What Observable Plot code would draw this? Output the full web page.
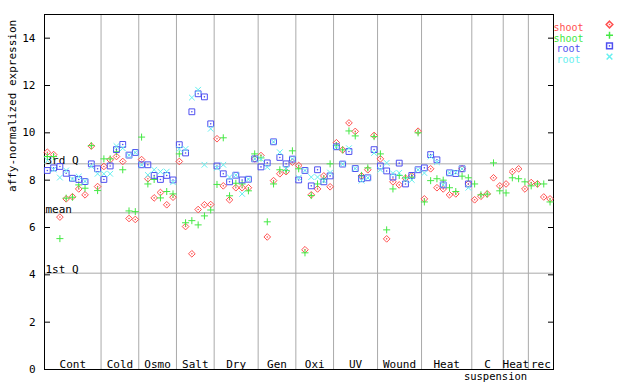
<!DOCTYPE html>
<html><head><meta charset="utf-8">
<script src="https://cdn.jsdelivr.net/npm/d3@7"></script>
<script src="https://cdn.jsdelivr.net/npm/@observablehq/plot@0.6"></script>
<style>body{margin:0;background:#fff}</style>
</head><body><div id="chart"></div><script>
const groupLabels = ["Cont","Cold","Osmo","Salt","Dry","Gen","Oxi","UV","Wound","Heat","C","Heat","rec"];
const groupSubLabels = ["","","","","","","","","","","suspension","",""];
const groupSizes = [9,6,6,6,7,6,6,7,7,8,5,4,4];
const shootA = [9.18,9.08,6.44,7.21,7.3,7.63,7.38,9.44,7.73, 8.58,8.86,9.0,8.79,6.38,6.34, 8.87,8.06,7.25,7.48,6.96,7.28, 8.79,6.04,4.89,6.76,6.96,6.97, 9.75,7.76,7.17,7.68,7.68,7.68,8.9, 9.04,5.6,7.98,8.27,8.36,8.76, 8.62,5.06,7.38,7.63,8.18,7.72, 9.58,9.28,10.42,10.06,8.18,8.44,9.89, 8.9,5.52,7.93,7.8,8.08,8.18,10.07, 7.21,8.48,7.68,7.63,7.38,7.42,8.48,7.84, 7.17,7.32,7.42,8.1,7.76, 7.84,8.36,8.48,7.63, 7.9,7.84,7.29,7.21];
const shootB = [9.0,9.0,5.53,7.24,7.28,7.8,7.66,9.46,7.56, 8.9,8.9,9.2,8.44,6.7,6.67, 9.82,7.84,8.03,7.25,7.52,7.42, 9.11,6.2,6.29,6.11,6.49,6.74, 7.82,9.79,7.34,7.87,7.84,7.55,9.11, 8.94,6.24,7.84,8.44,8.41,9.24, 8.48,4.93,7.35,7.84,8.04,8.69, 9.46,9.28,10.08,9.87,8.2,8.52,9.84, 9.11,5.9,7.63,8.2,8.1,8.13,10.0, 7.08,7.98,8.06,8.0,7.68,7.52,8.17,8.1, 7.84,7.38,7.41,8.73,7.55, 7.46,8.1,8.06,7.93, 7.76,7.84,7.84,7.08];
const rootA = [8.41,8.52,8.58,8.29,8.08,8.03,7.94,8.69,8.48, 8.03,8.6,9.29,9.51,9.06,9.17, 8.65,8.65,8.2,8.03,8.2,8.01, 9.5,9.15,10.89,11.65,11.52,10.38, 8.6,8.27,7.93,8.21,8.01,8.04,8.9, 8.56,8.73,9.62,8.96,8.69,8.89, 8.01,8.41,7.76,8.44,7.93,8.18, 9.41,8.68,9.21,8.49,8.06,8.1,9.29, 8.6,8.39,8.13,8.72,7.84,8.2,8.44, 8.52,9.08,8.86,7.8,8.31,8.28,8.48,7.84, null,null,null,null,null, null,null,null,null, null,null,null,null];
const rootB = [8.83,8.45,8.11,8.41,8.05,8.15,7.95,8.59,8.27, 8.27,8.27,9.44,9.35,9.05,9.17, 8.65,8.22,8.44,8.36,8.36,7.91, 9.32,9.32,11.49,11.82,8.65,10.17, 8.52,8.65,8.13,8.21,7.42,8.04,8.9, 8.9,8.55,9.62,9.18,8.48,8.89, 8.1,8.41,8.13,8.13,7.98,8.32, 9.41,8.68,9.35,8.49,7.98,8.1,9.15, 8.44,8.73,8.29,8.31,8.01,8.01,8.44, 8.3,9.0,8.76,7.8,8.31,8.33,8.48,7.68, null,null,null,null,null, null,null,null,null, null,null,null,null];
const refLabels = ["3rd Q","mean","1st Q"];
const refValues = [8.69,6.62,4.07];
const yTicks = [0,2,4,6,8,10,12,14];
const legendNames = ["shoot","shoot","root","root"];
const yTitle = "affy-normalized expression";

const colors = ["#ff5050","#44e844","#4f4ff0","#66f0f0"];
const symbols = ["diamond2","plus","square2","times"];
const radii = [3.0, 2.4, 3.7, 2.7];
const series = [shootA, shootB, rootA, rootB];

const nSamples = d3.sum(groupSizes);
const bounds = d3.cumsum(groupSizes);
const starts = bounds.map((b, k) => b - groupSizes[k]);
const groups = groupLabels.map((label, k) => ({label, sub: groupSubLabels[k], mid: (starts[k] + bounds[k]) / 2}));
const separators = Array.from(bounds).slice(0, -1);
const idx = d3.range(nSamples);
const refs = refLabels.map((label, k) => ({label, value: refValues[k]}));

const marks = [
  Plot.ruleY(refValues, {stroke: "#aaaaaa"}),
  Plot.ruleX(separators, {stroke: "#aaaaaa"}),
  Plot.text(refs, {y: "value", text: "label", frameAnchor: "left", textAnchor: "start", lineAnchor: "bottom", dx: 1, dy: 0, fill: "black"}),
  Plot.text(groups, {x: "mid", text: "label", frameAnchor: "bottom", lineAnchor: "middle", dy: -5, fill: "black"}),
  Plot.text(groups.filter(g => g.sub), {x: "mid", text: "sub", frameAnchor: "bottom", lineAnchor: "middle", dy: 7, dx: 8, fill: "black", fontSize: 10.5}),
  Plot.axisY({ticks: yTicks, tickSize: -6, label: null, tickFormat: d => String(d)}),
  Plot.axisY({anchor: "right", ticks: yTicks, tickSize: -6, label: null, tickFormat: () => ""}),
  Plot.text([yTitle], {frameAnchor: "left", rotate: -90, dx: -32, text: d => d, fill: "black"}),
  Plot.frame({stroke: "black"})
];
series.forEach((vals, s) => {
  marks.push(Plot.dot(idx, {x: i => i + 0.45, y: i => vals[i], symbol: symbols[s], r: radii[s], stroke: colors[s], strokeWidth: 1}));
  if (s === 0 || s === 2) marks.push(Plot.dot(idx, {x: i => i + 0.45, y: i => vals[i], r: 0.8, fill: colors[s], stroke: null}));
});
legendNames.forEach((name, s) => {
  const dy = 10 + s * 10.7;
  marks.push(Plot.text([name], {frameAnchor: "top-right", dx: 15, dy, text: d => d, fill: colors[s], textAnchor: "middle", fontSize: 10, lineHeight: 0.9}));
  marks.push(Plot.dot([0], {frameAnchor: "top-right", dx: 56, dy, symbol: symbols[s], r: radii[s], stroke: colors[s]}));
  if (s === 0 || s === 2) marks.push(Plot.dot([0], {frameAnchor: "top-right", dx: 56, dy, r: 0.8, fill: colors[s], stroke: null}));
});

const chart = Plot.plot({
  width: 640, height: 384,
  marginLeft: 44, marginRight: 87, marginTop: 14, marginBottom: 15,
  style: {fontFamily: "'DejaVu Sans Mono', monospace", fontSize: "11px", background: "white", color: "black"},
  x: {domain: [0, nSamples], axis: null},
  y: {domain: [0, 15], axis: null},
  marks
});
document.getElementById("chart").appendChild(chart);
</script></body></html>
